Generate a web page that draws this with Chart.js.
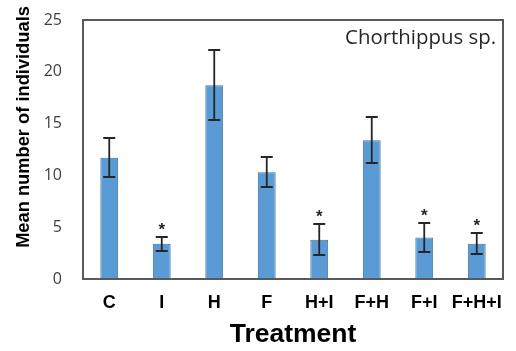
<!DOCTYPE html>
<html>
<head>
<meta charset="utf-8">
<script src="https://cdn.jsdelivr.net/npm/chart.js@4"></script>
<style>
  html, body { margin: 0; padding: 0; background: #fff; }
  #wrap { width: 516px; height: 351px; }
</style>
</head>
<body>
<div id="wrap"><canvas id="chart" width="516" height="351"></canvas></div>
<script>
'use strict';

// data
const treatments = ['C', 'I', 'H', 'F', 'H+I', 'F+H', 'F+I', 'F+H+I'];
const meanCounts = [11.7, 3.4, 18.7, 10.3, 3.8, 13.4, 4.0, 3.4];
const stdErrors = [1.9, 0.7, 3.4, 1.45, 1.5, 2.25, 1.4, 1.0];
const significant = [false, true, false, false, true, false, true, true];
const yTicks = [0, 5, 10, 15, 20, 25];

let canvasElem = document.getElementById('chart');

// error bars, stars, frame, y title and species label
const extrasPlugin = {
  id: 'extras',
  afterDraw(chart) {
    const ctx = chart.ctx;
    const y = chart.scales.y;
    const meta = chart.getDatasetMeta(0);
    const area = chart.chartArea;
    ctx.save();
    ctx.setLineDash([]);
    ctx.strokeStyle = '#262626';
    ctx.lineWidth = 1.8;
    meta.data.forEach((bar, i) => {
      const top = Math.round(y.getPixelForValue(meanCounts[i] + stdErrors[i]));
      const bot = Math.round(y.getPixelForValue(meanCounts[i] - stdErrors[i]));
      ctx.beginPath();
      ctx.moveTo(bar.x, top); ctx.lineTo(bar.x, bot);
      ctx.moveTo(bar.x - 6, top); ctx.lineTo(bar.x + 6, top);
      ctx.moveTo(bar.x - 6, bot); ctx.lineTo(bar.x + 6, bot);
      ctx.stroke();
      if (significant[i]) {
        ctx.fillStyle = '#262626';
        ctx.font = 'bold 17px "Liberation Sans", Arial';
        ctx.textAlign = 'center';
        ctx.textBaseline = 'middle';
        ctx.fillText('*', bar.x, top - 7);
      }
    });
    // frame round the plot area
    ctx.beginPath();
    ctx.strokeStyle = '#595959';
    ctx.lineWidth = 2;
    ctx.rect(area.left, area.top, area.right - area.left, area.bottom - area.top);
    ctx.stroke();
    // species label
    ctx.fillStyle = '#262626';
    ctx.font = '20.4px "Open Sans", "Liberation Sans", Arial';
    ctx.textAlign = 'right';
    ctx.textBaseline = 'middle';
    ctx.fillText('Chorthippus sp.', area.right - 7, area.top + 18);
    // y axis title, sits a little above the plot's middle in the original
    ctx.translate(24, 127);
    ctx.rotate(-Math.PI / 2);
    ctx.fillStyle = '#000';
    ctx.font = 'bold 18.3px "Liberation Sans", Arial';
    ctx.textAlign = 'center';
    ctx.fillText('Mean number of individuals', 0, 0);
    ctx.restore();
  }
};

const chartData = {
  labels: treatments,
  datasets: [
    {
      label: 'Chorthippus sp.',
      data: meanCounts,
      backgroundColor: '#5B9BD5',
      borderColor: '#41719C',
      borderWidth: 1,
      barPercentage: 0.68,
      categoryPercentage: 0.5,
    },
  ],
};

const chartConfig = {
  type: 'bar',
  data: chartData,
  options: {
    responsive: false,
    animation: false,
    layout: { padding: { top: 20, right: 13, bottom: 0, left: 0 } },
    plugins: {
      legend: { display: false },
      tooltip: { enabled: false },
    },
    scales: {
      x: {
        afterFit(axis) {
          axis.height = 72;
        },
        grid: { display: false, drawTicks: false },
        border: { display: false },
        ticks: {
          color: '#000',
          font: { family: '"Liberation Sans", Arial', size: 18, weight: 'bold' },
          padding: 13,
          maxRotation: 0,
          minRotation: 0,
          autoSkip: false,
        },
        title: {
          display: true,
          text: 'Treatment',
          color: '#000',
          font: { family: '"Liberation Sans", Arial', size: 26.5, weight: 'bold' },
          padding: { top: -6, bottom: 0 },
        },
      },
      y: {
        min: 0,
        max: 25,
        afterBuildTicks(axis) {
          axis.ticks = yTicks.map(v => ({ value: v }));
        },
        afterFit(axis) {
          axis.width = 83;
          axis.paddingTop = 0;
          axis.paddingBottom = 0;
        },
        grid: { display: false, drawTicks: false },
        border: { display: false },
        ticks: {
          color: '#404040',
          font: { family: '"Open Sans", "Liberation Sans", Arial', size: 16 },
          padding: 21,
        },
      },
    },
  },
  plugins: [extrasPlugin],
};

const myChart = new Chart(canvasElem, chartConfig);
</script>
</body>
</html>
